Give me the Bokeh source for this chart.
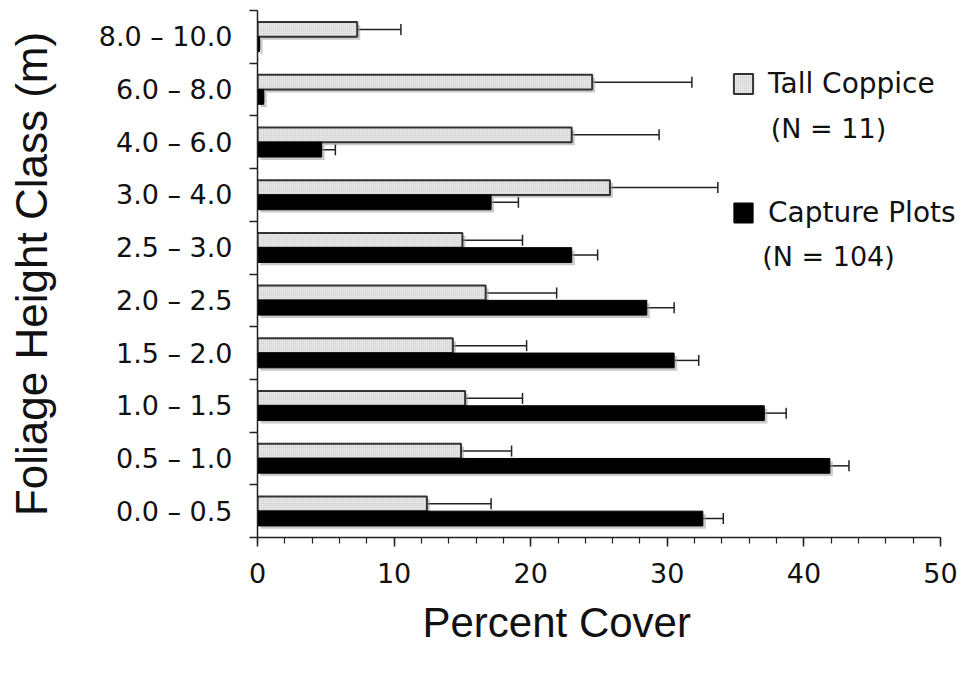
from bokeh.plotting import figure
from bokeh.models import (ColumnDataSource, FixedTicker, SingleIntervalTicker, Range1d,
                          Whisker, TeeHead, Legend, LegendItem, Label, Title)
from bokeh.embed import file_html
from bokeh.resources import INLINE

# ---- data (bottom to top) ----
classes = ["0.0 \u2013 0.5", "0.5 \u2013 1.0", "1.0 \u2013 1.5", "1.5 \u2013 2.0", "2.0 \u2013 2.5",
           "2.5 \u2013 3.0", "3.0 \u2013 4.0", "4.0 \u2013 6.0", "6.0 \u2013 8.0", "8.0 \u2013 10.0"]
tall_coppice = [12.4, 14.9, 15.2, 14.3, 16.7, 15.0, 25.8, 23.0, 24.5, 7.3]
tall_coppice_err = [4.7, 3.7, 4.2, 5.4, 5.2, 4.4, 7.9, 6.4, 7.3, 3.2]
capture_plots = [32.6, 41.9, 37.1, 30.5, 28.5, 23.0, 17.1, 4.7, 0.45, 0.15]
capture_plots_err = [1.5, 1.4, 1.6, 1.8, 2.0, 1.9, 2.0, 1.0, 0.0, 0.0]
x_ticks = [0, 10, 20, 30, 40, 50]
legend_names = ["Tall Coppice", "Capture Plots"]
legend_n = ["(N = 11)", "(N = 104)"]

n = len(classes)
centers = [i + 0.5 for i in range(n)]
bounds = list(range(n + 1))
bar_h = 0.28
off = 0.14
sx = 0.22    # shadow offsets (data units)
sy = 0.055

tc_y = [c + off for c in centers]
cp_y = [c - off for c in centers]

src_tc = ColumnDataSource(dict(
    y=tc_y, right=tall_coppice, upper=[v + e for v, e in zip(tall_coppice, tall_coppice_err)],
    sy=[y - sy for y in tc_y], sr=[v + sx for v in tall_coppice]))
src_cp = ColumnDataSource(dict(
    y=cp_y, right=capture_plots, upper=[v + e for v, e in zip(capture_plots, capture_plots_err)],
    sy=[y - sy for y in cp_y], sr=[v + sx for v in capture_plots]))

# frame extends a little past 50 so the legend text is not clipped; the axis stops at 50
x_max = x_ticks[-1] * 709 / 683

p = figure(width=966, height=668, output_backend="svg", toolbar_location=None,
           x_range=Range1d(0, x_max), y_range=Range1d(0, n),
           min_border_left=257, min_border_right=0, min_border_top=10, min_border_bottom=131)
p.outline_line_color = None
p.xgrid.visible = False
p.ygrid.visible = False
p.background_fill_color = "white"

# shadows
for src in (src_tc, src_cp):
    p.hbar(y="sy", left=sx, right="sr", height=bar_h, source=src,
           fill_color="#9c9c9c", fill_alpha=0.55, line_color=None)

r_tc = p.hbar(y="y", left=0, right="right", height=bar_h, source=src_tc,
              fill_color="#e4e4e4", line_color="#333333", line_width=2,
              hatch_pattern="dot", hatch_color="#c4c4c4", hatch_scale=2, hatch_alpha=0.8)
r_cp = p.hbar(y="y", left=0, right="right", height=bar_h, source=src_cp,
              fill_color="black", line_color="black", line_width=1)

for src in (src_tc, src_cp):
    w = Whisker(source=src, base="y", lower="right", upper="upper", dimension="width",
                line_color="#222222", line_width=1.5, lower_head=None,
                upper_head=TeeHead(size=11, line_color="#222222", line_width=1.5))
    p.add_layout(w)

# axes
xa = p.xaxis[0]
xa.bounds = (x_ticks[0], x_ticks[-1])
xa.ticker = SingleIntervalTicker(interval=10, num_minor_ticks=5)
xa.major_label_text_font = "DejaVu Sans"
xa.major_label_text_font_size = "27px"
xa.major_label_text_color = "#111111"
xa.major_label_standoff = 16
xa.major_tick_in = 0
xa.major_tick_out = 9
xa.minor_tick_in = 0
xa.minor_tick_out = 6
xa.axis_line_width = 1.5
xa.major_tick_line_width = 1.5
xa.minor_tick_line_width = 1.2
xa.axis_line_color = "#222222"
xa.major_tick_line_color = "#222222"
xa.minor_tick_line_color = "#222222"

# x-axis title (placed a little left of the axis centre, as in the original)
p.add_layout(Title(text="Percent Cover", align="left", offset=165, standoff=22,
                   text_font="Liberation Sans", text_font_size="42px",
                   text_font_style="normal", text_color="#111111"), "below")

ya = p.yaxis[0]
ya.ticker = FixedTicker(ticks=centers, minor_ticks=bounds)
ya.major_label_overrides = {c: lab for c, lab in zip(centers, classes)}
ya.axis_label = "Foliage Height Class (m)"
ya.axis_label_text_font = "Liberation Sans"
ya.axis_label_text_font_size = "44px"
ya.axis_label_text_font_style = "normal"
ya.axis_label_text_color = "#111111"
ya.axis_label_standoff = 40
ya.major_label_text_font = "DejaVu Sans"
ya.major_label_text_font_size = "27px"
ya.major_label_text_color = "#111111"
ya.major_label_standoff = 17
ya.major_tick_in = 0
ya.major_tick_out = 0
ya.minor_tick_in = 0
ya.minor_tick_out = 8
ya.axis_line_width = 1.5
ya.minor_tick_line_width = 1.5
ya.axis_line_color = "#222222"
ya.minor_tick_line_color = "#222222"

# legend (two separate one-item legends)
for r, name, loc in ((r_tc, legend_names[0], (474, 437)), (r_cp, legend_names[1], (474, 308))):
    lg = Legend(items=[LegendItem(label=name, renderers=[r])], location=loc,
                glyph_width=24, glyph_height=25, label_text_font="DejaVu Sans",
                label_text_font_size="28px", label_text_color="#111111",
                border_line_color=None, background_fill_alpha=0, padding=0, margin=0,
                label_standoff=13)
    p.add_layout(lg)

for nlab, yv in zip(legend_n, (7.76, 5.33)):
    p.add_layout(Label(x=41.8, y=yv, text=nlab, text_align="center", text_baseline="middle",
                       text_font="DejaVu Sans", text_font_size="27px", text_color="#111111"))

open("out.html", "w").write(file_html(p, INLINE))
